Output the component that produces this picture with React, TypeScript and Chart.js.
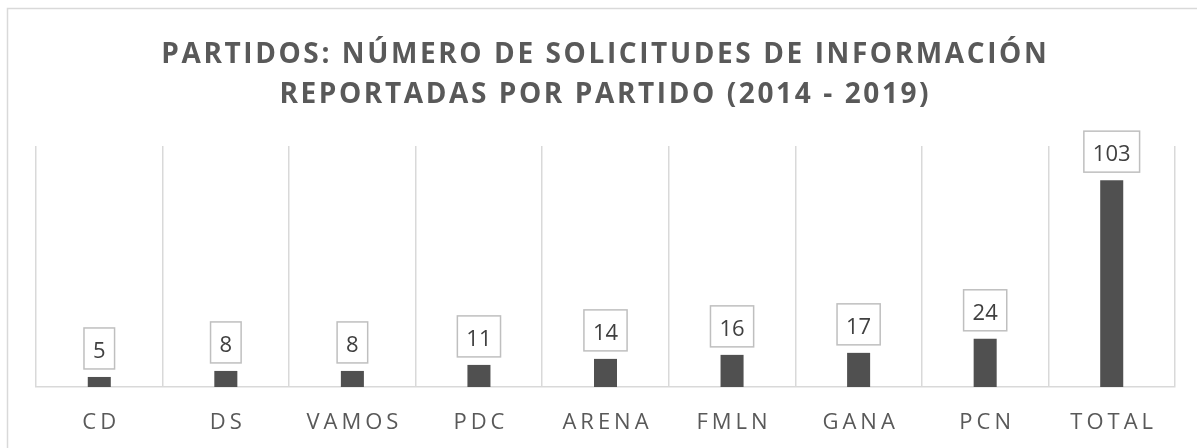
import React, { useEffect, useRef } from 'react';
import { Chart, registerables } from 'chart.js';

Chart.register(...registerables);

const titleLines = [
  'PARTIDOS: NÚMERO DE SOLICITUDES DE INFORMACIÓN',
  'REPORTADAS POR PARTIDO (2014 - 2019)',
];
const categories = ['CD', 'DS', 'VAMOS', 'PDC', 'ARENA', 'FMLN', 'GANA', 'PCN', 'TOTAL'];
const solicitudes = [5, 8, 8, 11, 14, 16, 17, 24, 103];
const yMax = 120;

const FONT = '"Open Sans", "Noto Sans", sans-serif';

const decorPlugin = {
  id: 'decor',
  beforeDraw(chart: any) {
    const ctx = chart.ctx as CanvasRenderingContext2D;
    ctx.save();
    ctx.fillStyle = '#ffffff';
    ctx.fillRect(0, 0, chart.width, chart.height);
    ctx.strokeStyle = '#d9d9d9';
    ctx.lineWidth = 1.5;
    ctx.beginPath();
    ctx.moveTo(7.5, chart.height + 5);
    ctx.lineTo(7.5, 8.5);
    ctx.lineTo(chart.width + 5, 8.5);
    ctx.stroke();
    ctx.restore();
  },
  afterDatasetsDraw(chart: any) {
    const ctx = chart.ctx as CanvasRenderingContext2D;
    const meta = chart.getDatasetMeta(0);
    ctx.save();
    (ctx as any).letterSpacing = '0px';
    ctx.font = `22px ${FONT}`;
    ctx.textAlign = 'center';
    ctx.textBaseline = 'alphabetic';
    meta.data.forEach((bar: any, i: number) => {
      const txt = String(solicitudes[i]);
      const tw = ctx.measureText(txt).width;
      const w = tw + 18;
      const h = 41;
      const bottom = bar.y - 8;
      const left = bar.x - w / 2;
      ctx.fillStyle = '#ffffff';
      ctx.fillRect(left, bottom - h, w, h);
      ctx.strokeStyle = '#bfbfbf';
      ctx.lineWidth = 1.5;
      ctx.strokeRect(left, bottom - h, w, h);
      ctx.fillStyle = '#404040';
      ctx.fillText(txt, bar.x, bottom - 10.7);
    });
    ctx.restore();
  },
  afterDraw(chart: any) {
    const ctx = chart.ctx as CanvasRenderingContext2D;
    ctx.save();
    ctx.textAlign = 'center';
    ctx.textBaseline = 'alphabetic';
    // title
    const ts = 2.6;
    (ctx as any).letterSpacing = ts + 'px';
    ctx.font = `bold 28px ${FONT}`;
    ctx.fillStyle = '#595959';
    ctx.fillText(titleLines[0], 604 + ts / 2, 63);
    ctx.fillText(titleLines[1], 604 + ts / 2, 103);
    // x labels
    const ls = 4;
    (ctx as any).letterSpacing = ls + 'px';
    ctx.font = `22px ${FONT}`;
    ctx.fillStyle = '#595959';
    const xs = chart.scales.x;
    categories.forEach((c, i) => {
      ctx.fillText(c, xs.getPixelForValue(i) + ls / 2, 429);
    });
    ctx.restore();
  },
};

export default function App() {
  const ref = useRef<HTMLCanvasElement>(null);
  useEffect(() => {
    if (!ref.current) return;
    const chart = new Chart(ref.current, {
      type: 'bar',
      data: {
        labels: categories,
        datasets: [
          {
            data: solicitudes,
            backgroundColor: '#505050',
            borderWidth: 0,
            barPercentage: 0.182,
            categoryPercentage: 1,
          },
        ],
      },
      options: {
        animation: false,
        responsive: false,
        maintainAspectRatio: false,
        layout: { padding: { left: 36, right: 22, top: 146, bottom: 61 } },
        plugins: { legend: { display: false }, title: { display: false }, tooltip: { enabled: false } },
        scales: {
          x: {
            offset: true,
            grid: { display: true, offset: true, color: '#d9d9d9', lineWidth: 1.5, drawTicks: false },
            border: { display: true, color: '#d9d9d9', width: 1.5 },
            ticks: { display: false },
          },
          y: {
            display: false,
            min: 0,
            max: yMax,
          },
        },
      },
      plugins: [decorPlugin],
    });
    return () => chart.destroy();
  }, []);
  return (
    <div style={{ position: 'fixed', left: 0, top: 0, width: 1197, height: 448, background: '#fff' }}>
      <canvas ref={ref} width={1197} height={448} style={{ display: 'block', width: 1197, height: 448 }} />
    </div>
  );
}
